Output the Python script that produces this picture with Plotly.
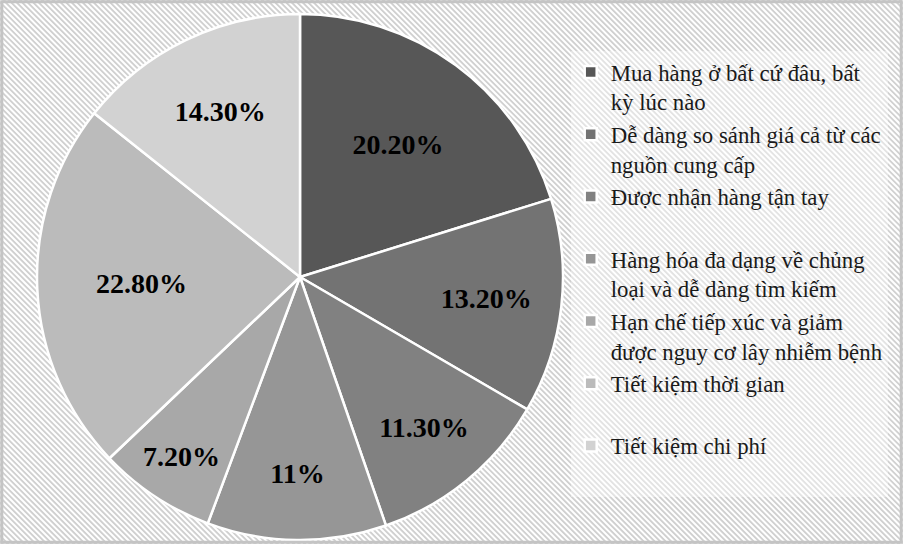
import plotly.graph_objects as go

# dữ liệu biểu đồ
labels = [
    "Mua hàng ở bất cứ đâu, bất<br>kỳ lúc nào",
    "Dễ dàng so sánh giá cả từ các<br>nguồn cung cấp",
    "Được nhận hàng tận tay<br> ",
    "Hàng hóa đa dạng về chủng<br>loại và dễ dàng tìm kiếm",
    "Hạn chế tiếp xúc và giảm<br>được nguy cơ lây nhiễm bệnh",
    "Tiết kiệm thời gian<br> ",
    "Tiết kiệm chi phí<br> ",
]
values = [20.2, 13.2, 11.3, 11.0, 7.2, 22.8, 14.3]
value_text = ["20.20%", "13.20%", "11.30%", "11%", "7.20%", "22.80%", "14.30%"]
colors = ["#575757", "#737373", "#818181", "#969696", "#a8a8a8", "#bbbbbb", "#d2d2d2"]

W, H = 903, 544
SERIF = "Liberation Serif, 'Times New Roman', serif"

fig = go.Figure()
fig.add_trace(go.Pie(
    labels=labels, values=values, text=value_text,
    textinfo="text", textposition="inside", insidetextorientation="horizontal",
    sort=False, direction="clockwise", rotation=0,
    marker=dict(colors=colors, line=dict(color="white", width=2.5)),
    textfont=dict(family=SERIF, size=28, color="black", weight="bold"),
    domain=dict(x=[37 / W, 563 / W], y=[4 / H, 530 / H]),
    hoverinfo="label+percent",
))

# nền sọc chéo
segs = []
x0 = -H
while x0 < W + 6:
    segs.append("M%.5f,%.5f L%.5f,%.5f" % (x0 / W, 1.0, (x0 + H) / W, 0.0))
    x0 += 5.5
shapes = [
    dict(type="rect", xref="paper", yref="paper", x0=0, y0=0, x1=1, y1=1,
         fillcolor="#d0d0d0", line=dict(width=0), layer="below"),
    dict(type="path", xref="paper", yref="paper", path=" ".join(segs),
         line=dict(color="white", width=2), layer="below"),
    dict(type="rect", xref="paper", yref="paper", x0=0.002, y0=0.003, x1=0.998, y1=0.997,
         line=dict(color="#c4c4c4", width=3), layer="above"),
]

fig.update_layout(
    width=W, height=H,
    margin=dict(l=0, r=0, t=0, b=0),
    paper_bgcolor="#e4e4e4",
    shapes=shapes,
    showlegend=True,
    legend=dict(
        x=0.632, y=0.907, xanchor="left", yanchor="top",
        bgcolor="rgba(255,255,255,0.4)", borderwidth=0,
        font=dict(family=SERIF, size=22.8, color="#1a1a1a"),
        valign="top", tracegroupgap=0,
    ),
)

fig.write_html("out.html", config={"displayModeBar": False},
               post_script="document.body.style.margin='0';")
